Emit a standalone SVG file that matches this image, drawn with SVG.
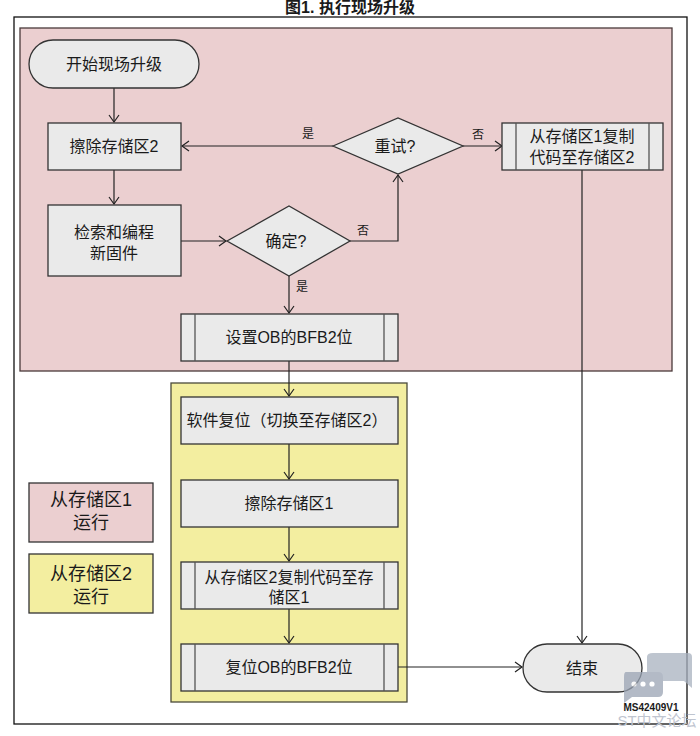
<svg xmlns="http://www.w3.org/2000/svg" width="700" height="736" viewBox="0 0 700 736">
<defs>
<marker id="arr" markerWidth="12" markerHeight="12" refX="10" refY="6" orient="auto" markerUnits="userSpaceOnUse">
<path d="M3,1 L10,6 L3,11" fill="none" stroke="#222" stroke-width="1.2"/>
</marker>
<clipPath id="wmclip"><rect x="600" y="640" width="100" height="88"/></clipPath>
<style>
text{font-family:"Liberation Sans","Noto Sans CJK SC",sans-serif;fill:#1a1a1a;}
.t{font-size:16px;text-anchor:middle;dominant-baseline:central;}
.lg{font-size:18px;text-anchor:middle;dominant-baseline:central;}
.s{font-size:12px;text-anchor:middle;dominant-baseline:central;}
.box{fill:#EAEAEA;stroke:#333;stroke-width:1.3;}
.inner{stroke:#555;stroke-width:1.3;fill:none;}
.c{fill:none;stroke:#222;stroke-width:1.2;}
</style>
</defs>
<rect width="700" height="736" fill="#fff"/>
<text x="350" y="7" font-size="16" font-weight="bold" text-anchor="middle" dominant-baseline="central">图1. 执行现场升级</text>
<rect x="14" y="17" width="673" height="707" fill="#fff" stroke="#111" stroke-width="1.3"/>
<g id="region-bank1">
<rect x="20" y="28" width="652" height="343" fill="#EBCFD0" stroke="#4a3a3a" stroke-width="1.3"/>
</g>
<g id="region-bank2">
<rect x="171" y="383" width="236" height="319" fill="#F3EEA0" stroke="#4a4a3a" stroke-width="1.3"/>
</g>
<g id="connectors">
<path class="c" d="M114,88 V122" marker-end="url(#arr)"/>
<path class="c" d="M114,170 V204" marker-end="url(#arr)"/>
<path class="c" d="M181,241 H226" marker-end="url(#arr)"/>
<path class="c" d="M350,241 H398 V175" marker-end="url(#arr)"/>
<path class="c" d="M333,146 H182" marker-end="url(#arr)"/>
<path class="c" d="M463,146 H502" marker-end="url(#arr)"/>
<path class="c" d="M582,170 V643" marker-end="url(#arr)"/>
<path class="c" d="M289,276 V313" marker-end="url(#arr)"/>
<path class="c" d="M289,361 V396" marker-end="url(#arr)"/>
<path class="c" d="M289,444 V479" marker-end="url(#arr)"/>
<path class="c" d="M289,527 V561" marker-end="url(#arr)"/>
<path class="c" d="M289,609 V643" marker-end="url(#arr)"/>
<path class="c" d="M398,667 H522" marker-end="url(#arr)"/>
<text class="s" x="308" y="134">是</text>
<text class="s" x="478" y="135">否</text>
<text class="s" x="363" y="231">否</text>
<text class="s" x="302" y="287">是</text>
</g>
<g id="start">
<rect class="box" x="29" y="40" width="170" height="48" rx="24" ry="24"/>
<text class="t" x="114" y="64">开始现场升级</text>
</g>
<g id="erase2">
<rect class="box" x="48" y="123" width="133" height="47"/>
<text class="t" x="114" y="146">擦除存储区2</text>
</g>
<g id="program">
<rect class="box" x="48" y="205" width="133" height="71"/>
<text class="t" x="114" y="232">检索和编程</text>
<text class="t" x="114" y="253">新固件</text>
</g>
<g id="confirm">
<polygon class="box" points="227,241 289,206 350,241 289,276"/>
<text class="t" x="286" y="241">确定?</text>
</g>
<g id="retry">
<polygon class="box" points="333,146 398,118 463,146 398,174"/>
<text class="t" x="395" y="146">重试?</text>
</g>
<g id="copy1to2">
<rect class="box" x="502" y="123" width="161" height="47"/>
<path class="inner" d="M516,123 V170 M649,123 V170"/>
<text class="t" x="582" y="136">从存储区1复制</text>
<text class="t" x="582" y="157">代码至存储区2</text>
</g>
<g id="setob">
<rect class="box" x="181" y="314" width="217" height="47"/>
<path class="inner" d="M195,314 V361 M384,314 V361"/>
<text class="t" x="289" y="337">设置OB的BFB2位</text>
</g>
<g id="softreset">
<rect class="box" x="181" y="397" width="217" height="47"/>
<text class="t" x="287" y="420">软件复位（切换至存储区2）</text>
</g>
<g id="erase1">
<rect class="box" x="181" y="480" width="217" height="47"/>
<text class="t" x="289" y="503">擦除存储区1</text>
</g>
<g id="copy2to1">
<rect class="box" x="181" y="562" width="217" height="47"/>
<path class="inner" d="M195,562 V609 M384,562 V609"/>
<text class="t" x="289" y="577">从存储区2复制代码至存</text>
<text class="t" x="289" y="597">储区1</text>
</g>
<g id="resetob">
<rect class="box" x="181" y="644" width="217" height="47"/>
<path class="inner" d="M195,644 V691 M384,644 V691"/>
<text class="t" x="289" y="667">复位OB的BFB2位</text>
</g>
<g id="end">
<rect class="box" x="523" y="644" width="119" height="48" rx="24" ry="24"/>
<text class="t" x="582" y="668">结束</text>
</g>
<g id="legend-bank1">
<rect x="29" y="483" width="124" height="59" fill="#EBCFD0" stroke="#333" stroke-width="1.3"/>
<text class="lg" x="91" y="500">从存储区1</text>
<text class="lg" x="91" y="523">运行</text>
</g>
<g id="legend-bank2">
<rect x="29" y="554" width="124" height="59" fill="#F3EEA0" stroke="#333" stroke-width="1.3"/>
<text class="lg" x="91" y="574">从存储区2</text>
<text class="lg" x="91" y="597">运行</text>
</g>
<g id="watermark" opacity="0.75">
<path d="M653,653 H688 Q692,653 692,657 V688 L684,681 H653 Q647,681 647,677 V657 Q647,653 653,653 Z" fill="#A9B2C0"/>
<path d="M626,672 H658 Q663,672 663,677 V692 Q663,697 658,697 H632 L624,703 V677 Q624,672 626,672 Z" fill="#9AA4B4"/>
<circle cx="634" cy="684" r="2.6" fill="#fff"/>
<circle cx="643" cy="684" r="2.6" fill="#fff"/>
<circle cx="652" cy="684" r="2.6" fill="#fff"/>
</g>
<text x="651" y="707" font-size="10" font-weight="bold" text-anchor="middle" dominant-baseline="central" style="fill:#1a1a1a">MS42409V1</text>
<g clip-path="url(#wmclip)">
<text x="657" y="720" font-size="15" text-anchor="middle" dominant-baseline="central" style="fill:#BFC5D0">ST中文论坛</text>
</g>
</svg>
